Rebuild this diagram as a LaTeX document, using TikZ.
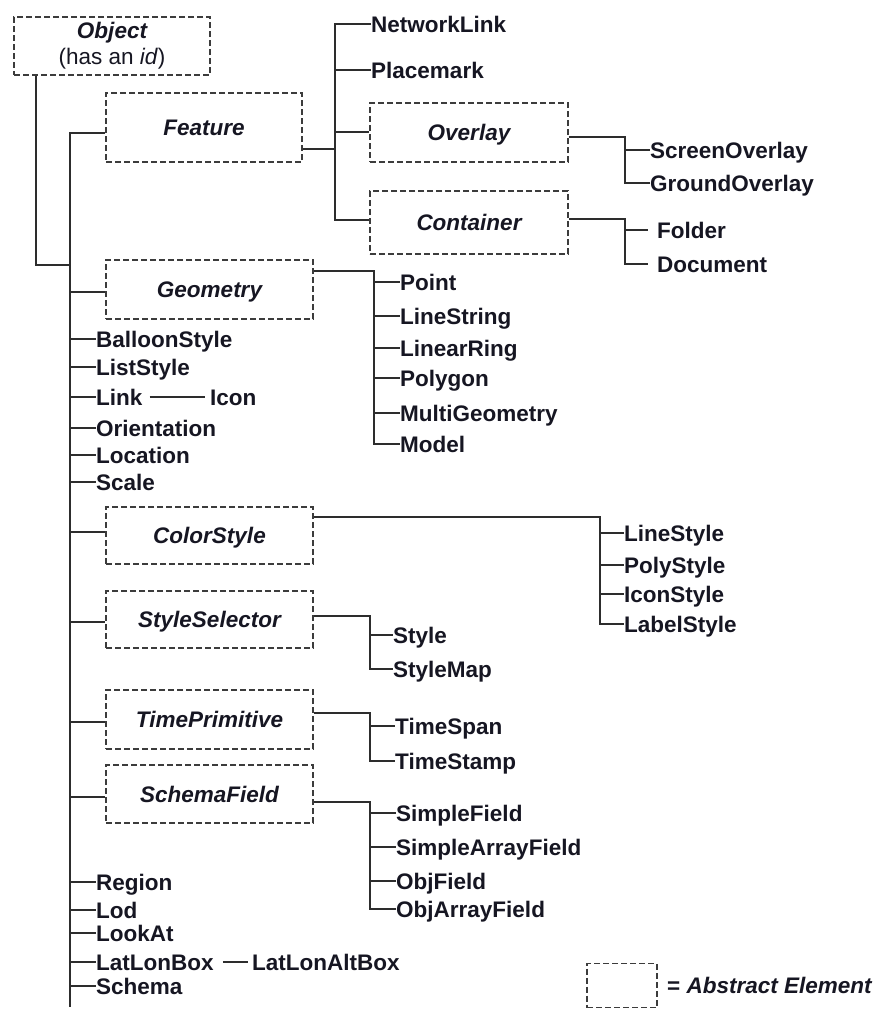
\documentclass[tikz,border=0pt]{standalone}
\usepackage{fontspec}
\setmainfont{Liberation Sans}
\definecolor{linec}{RGB}{45,45,45}
\definecolor{boxc}{RGB}{60,60,60}
\definecolor{txtc}{RGB}{22,22,34}
\newcommand\lblfont{\fontsize{22.5}{22.5}\selectfont\bfseries}
\begin{document}
\begin{tikzpicture}[x=1pt,y=-1pt,
  conn/.style={draw=linec, line width=1.8pt, line join=miter},
  absbox/.style={draw=boxc, dash pattern=on 6pt off 3pt, line width=1.7pt, inner sep=0pt,
    font=\lblfont\itshape, text=txtc, text height=16pt, text depth=0pt},
  lbl/.style={anchor=west, inner sep=0pt, font=\lblfont, text=txtc, text height=16pt, text depth=0pt}]
\useasboundingbox (0,0) rectangle (883,1009);

% ---------- abstract boxes ----------
\node[absbox, minimum width=196pt, minimum height=58pt, align=center, text height=, text depth=,
  font=\fontsize{22.5}{26}\selectfont] (object) at (112,46)
  {\bfseries\itshape Object\\(has an \textit{id})};
\node[absbox, minimum width=196pt, minimum height=69pt] (feature) at (204,127.5) {Feature};
\node[absbox, minimum width=198pt, minimum height=59pt] (overlay) at (469,132.5) {Overlay};
\node[absbox, minimum width=198pt, minimum height=63pt] (container) at (469,222.5) {Container};
\node[absbox, minimum width=207pt, minimum height=59pt] (geometry) at (209.5,289.5) {Geometry};
\node[absbox, minimum width=207pt, minimum height=57pt] (colorstyle) at (209.5,535.5) {ColorStyle};
\node[absbox, minimum width=207pt, minimum height=57pt] (styleselector) at (209.5,619.5) {StyleSelector};
\node[absbox, minimum width=207pt, minimum height=59pt] (timeprimitive) at (209.5,719.5) {TimePrimitive};
\node[absbox, minimum width=207pt, minimum height=58pt] (schemafield) at (209.5,794) {SchemaField};

% ---------- main trunk ----------
\coordinate (t1top) at (36,75);
\coordinate (t1bot) at (36,265);
\coordinate (t2top) at (70,133);
\coordinate (t2bot) at (70,1007);
\draw[conn] (object.south -| t1top) -- (t1bot) -- (t1bot -| t2top);
\draw[conn] (t2top -| feature.west) -- (t2top) -- (t2bot);

% ---------- leaves on main trunk ----------
\foreach \n/\t/\y in {balloon/BalloonStyle/339, liststyle/ListStyle/367, link/Link/397,
  orientation/Orientation/428, location/Location/455, scale/Scale/482,
  region/Region/882, lod/Lod/910, lookat/LookAt/933, latlonbox/LatLonBox/962, schema/Schema/986}{
  \node[lbl] (\n) at (96,\y) {\t};
  \draw[conn] (t2top |- \n.west) -- (\n.west);
}
\node[lbl] (icon) at (210,397) {Icon};
\draw[conn, shorten <=7pt, shorten >=5pt] (link.east) -- (icon.west);
\node[lbl] (latlonaltbox) at (252,962) {LatLonAltBox};
\draw[conn, shorten <=9pt, shorten >=4pt] (latlonbox.east) -- (latlonaltbox.west);

% branches from main trunk into abstract boxes
\coordinate (ingeo) at (70,292);
\coordinate (incol) at (70,532);
\coordinate (insel) at (70,622);
\coordinate (intim) at (70,722);
\coordinate (insch) at (70,797);
\draw[conn] (ingeo) -- (ingeo -| geometry.west);
\draw[conn] (incol) -- (incol -| colorstyle.west);
\draw[conn] (insel) -- (insel -| styleselector.west);
\draw[conn] (intim) -- (intim -| timeprimitive.west);
\draw[conn] (insch) -- (insch -| schemafield.west);

% ---------- Feature subtree ----------
\node[lbl] (networklink) at (371,24) {NetworkLink};
\node[lbl] (placemark) at (371,70) {Placemark};
\coordinate (fv) at (335,149);
\coordinate (fvov) at (335,132);
\coordinate (fvct) at (335,220);
\draw[conn] (feature.east |- fv) -- (fv);
\draw[conn] (networklink.west) -- (fv |- networklink.west) -- (fvct) -- (fvct -| container.west);
\draw[conn] (fv |- placemark.west) -- (placemark.west);
\draw[conn] (fvov) -- (fvov -| overlay.west);

% Overlay subtree
\node[lbl] (screenoverlay) at (650,150) {ScreenOverlay};
\node[lbl] (groundoverlay) at (650,183) {GroundOverlay};
\coordinate (ov) at (625,137);
\draw[conn] (overlay.east |- ov) -- (ov) -- (ov |- groundoverlay.west) -- (groundoverlay.west);
\draw[conn] (ov |- screenoverlay.west) -- (screenoverlay.west);

% Container subtree
\node[lbl] (folder) at (657,230) {Folder};
\node[lbl] (document) at (657,264) {Document};
\coordinate (cv) at (625,219);
\draw[conn, shorten >=9pt] (container.east |- cv) -- (cv) -- (cv |- document.west) -- (document.west);
\draw[conn, shorten >=9pt] (cv |- folder.west) -- (folder.west);

% ---------- Geometry subtree ----------
\foreach \n/\t/\y in {point/Point/282, linestring/LineString/316, linearring/LinearRing/348,
  polygon/Polygon/378, multigeometry/MultiGeometry/413, model/Model/444}{
  \node[lbl] (\n) at (400,\y) {\t};
}
\coordinate (gv) at (374,271);
\draw[conn] (geometry.east |- gv) -- (gv) -- (gv |- model.west) -- (model.west);
\foreach \n in {point,linestring,linearring,polygon,multigeometry}{
  \draw[conn] (gv |- \n.west) -- (\n.west);
}

% ---------- ColorStyle subtree ----------
\foreach \n/\t/\y in {linestyle/LineStyle/533, polystyle/PolyStyle/565, iconstyle/IconStyle/594,
  labelstyle/LabelStyle/624}{
  \node[lbl] (\n) at (624,\y) {\t};
}
\coordinate (csv) at (600,517);
\draw[conn] (colorstyle.east |- csv) -- (csv) -- (csv |- labelstyle.west) -- (labelstyle.west);
\foreach \n in {linestyle,polystyle,iconstyle}{
  \draw[conn] (csv |- \n.west) -- (\n.west);
}

% ---------- StyleSelector subtree ----------
\node[lbl] (style) at (393,635) {Style};
\node[lbl] (stylemap) at (393,669) {StyleMap};
\coordinate (ssv) at (370,616);
\draw[conn] (styleselector.east |- ssv) -- (ssv) -- (ssv |- stylemap.west) -- (stylemap.west);
\draw[conn] (ssv |- style.west) -- (style.west);

% ---------- TimePrimitive subtree ----------
\node[lbl] (timespan) at (395,726) {TimeSpan};
\node[lbl] (timestamp) at (395,761) {TimeStamp};
\coordinate (tpv) at (370,713);
\draw[conn] (timeprimitive.east |- tpv) -- (tpv) -- (tpv |- timestamp.west) -- (timestamp.west);
\draw[conn] (tpv |- timespan.west) -- (timespan.west);

% ---------- SchemaField subtree ----------
\foreach \n/\t/\y in {simplefield/SimpleField/813, simplearrayfield/SimpleArrayField/847,
  objfield/ObjField/881, objarrayfield/ObjArrayField/909}{
  \node[lbl] (\n) at (396,\y) {\t};
}
\coordinate (sfv) at (370,802);
\draw[conn] (schemafield.east |- sfv) -- (sfv) -- (sfv |- objarrayfield.west) -- (objarrayfield.west);
\foreach \n in {simplefield,simplearrayfield,objfield}{
  \draw[conn] (sfv |- \n.west) -- (\n.west);
}

% ---------- legend ----------
\node[absbox, minimum width=70pt, minimum height=44pt] (legendbox) at (622,985.5) {};
\node[lbl] (legendtext) at (667,985) {= \textit{Abstract Element}};
\end{tikzpicture}
\end{document}
